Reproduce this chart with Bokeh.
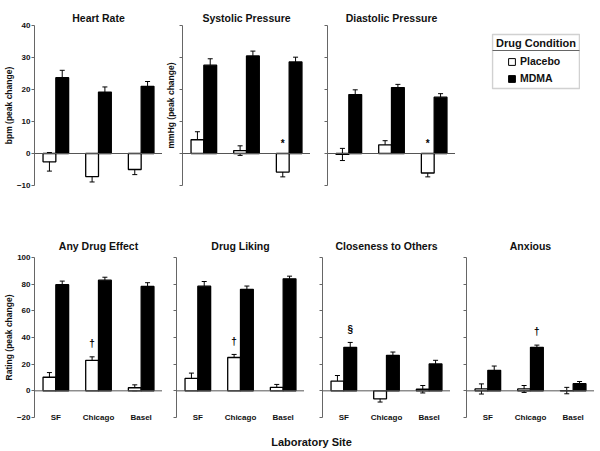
from bokeh.plotting import figure
from bokeh.models import (ColumnDataSource, FactorRange, Range1d, FixedTicker, Span,
                          Whisker, TeeHead, Legend, LegendItem, Label, BoxAnnotation)
from bokeh.transform import dodge
from bokeh.layouts import row, column
from bokeh.embed import file_html
from bokeh.resources import INLINE
from bokeh.core.properties import value

# ---------------- data ----------------
sites = ["SF", "Chicago", "Basel"]
drugs = ["Placebo", "MDMA"]

hr_placebo = [-2.6, -7.2, -5.0]
hr_placebo_se = [2.9, 1.7, 1.6]
hr_mdma = [23.7, 19.2, 21.0]
hr_mdma_se = [2.3, 1.6, 1.5]

sys_placebo = [4.3, 0.9, -5.8]
sys_placebo_se = [2.5, 1.5, 1.5]
sys_mdma = [27.6, 30.5, 28.6]
sys_mdma_se = [2.0, 1.5, 1.5]

dia_placebo = [-0.3, 2.7, -6.1]
dia_placebo_se = [1.9, 1.3, 1.2]
dia_mdma = [18.4, 20.6, 17.6]
dia_mdma_se = [1.5, 1.0, 1.1]

any_placebo = [10.2, 22.9, 2.3]
any_placebo_se = [3.5, 2.6, 2.2]
any_mdma = [79.6, 83.0, 78.3]
any_mdma_se = [2.7, 2.2, 2.8]

lik_placebo = [9.3, 25.0, 2.6]
lik_placebo_se = [4.0, 2.3, 2.2]
lik_mdma = [78.5, 76.1, 84.0]
lik_mdma_se = [3.5, 2.5, 2.0]

clo_placebo = [7.3, -6.0, 1.2]
clo_placebo_se = [4.2, 2.4, 2.8]
clo_mdma = [32.6, 26.6, 20.2]
clo_mdma_se = [3.7, 2.5, 2.7]

anx_placebo = [1.4, 1.4, 0.2]
anx_placebo_se = [3.8, 2.6, 2.4]
anx_mdma = [15.4, 32.6, 5.3]
anx_mdma_se = [3.2, 1.7, 1.7]

top_ticks = [-10, 0, 10, 20, 30, 40]
bottom_ticks = [-20, 0, 20, 40, 60, 80, 100]

# significance marks: (site, drug, symbol)
sys_marks = [("Basel", "Placebo", "*")]
dia_marks = [("Basel", "Placebo", "*")]
any_marks = [("Chicago", "Placebo", "\u2020")]
lik_marks = [("Chicago", "Placebo", "\u2020")]
clo_marks = [("SF", "MDMA", "\u00a7")]
anx_marks = [("Chicago", "MDMA", "\u2020")]

# ---------------- styling ----------------
FONT = "Liberation Sans"
TXT = "#111111"
AXC = "#666666"
FW = 128
OFF = {"Placebo": -0.15, "MDMA": 0.15}
NAN = float("nan")


def make_panel(title, pl, pl_se, md, md_se, yr, ticks, frame_h, left,
               top, bottom, standoff, marks, pad, ylabel=None, tick_labels=False,
               site_labels=False):
    p = figure(x_range=FactorRange(*sites), y_range=Range1d(*yr),
               frame_width=FW, frame_height=frame_h, title=title,
               min_border_left=left, min_border_right=0,
               min_border_top=top, min_border_bottom=bottom,
               output_backend="svg", toolbar_location=None)
    p.outline_line_color = None
    p.grid.visible = False
    p.title.align = "center"
    p.title.text_font = FONT
    p.title.text_font_style = "bold"
    p.title.text_font_size = "10.5px"
    p.title.text_color = TXT
    p.title.standoff = standoff

    src = ColumnDataSource(dict(
        site=sites, placebo=pl, mdma=md,
        placebo_hi=[m + s for m, s in zip(pl, pl_se)],
        placebo_lo=[m - s for m, s in zip(pl, pl_se)],
        mdma_hi=[m + s for m, s in zip(md, md_se)],
    ))
    p.vbar(x=dodge("site", OFF["Placebo"], range=p.x_range), top="placebo", bottom=0,
           width=0.3, source=src, fill_color="white", line_color="black", line_width=1.3)
    p.vbar(x=dodge("site", OFF["MDMA"], range=p.x_range), top="mdma", bottom=0,
           width=0.3, source=src, fill_color="black", line_color="black", line_width=1.3)
    p.add_layout(Span(location=0, dimension="width", line_color="#555555", line_width=1))
    p.add_layout(Whisker(base=dodge("site", OFF["Placebo"], range=p.x_range),
                         upper="placebo_hi", lower="placebo_lo", source=src,
                         line_color="black", line_width=1,
                         upper_head=TeeHead(size=5, line_color="black", line_width=1),
                         lower_head=TeeHead(size=5, line_color="black", line_width=1)))
    p.add_layout(Whisker(base=dodge("site", OFF["MDMA"], range=p.x_range),
                         upper="mdma_hi", lower="mdma", source=src,
                         line_color="black", line_width=1,
                         upper_head=TeeHead(size=5, line_color="black", line_width=1),
                         lower_head=None))

    for drug in drugs:
        ms, my, msym = [], [], []
        for site, d, sym in marks:
            if d != drug:
                continue
            i = sites.index(site)
            hi = pl[i] + pl_se[i] if drug == "Placebo" else md[i] + md_se[i]
            ms.append(site)
            my.append(max(hi, 0) + pad)
            msym.append(sym)
        if not ms:
            continue
        msrc = ColumnDataSource(dict(site=ms, y=my, sym=msym))
        p.text(x=dodge("site", OFF[drug], range=p.x_range), y="y", text="sym",
               source=msrc, text_align="center", text_baseline="middle",
               text_font=value(FONT), text_font_style="bold", text_font_size="10px",
               text_color="black")

    ya = p.yaxis[0]
    ya.ticker = FixedTicker(ticks=ticks)
    ya.major_tick_out = 3
    ya.major_tick_in = 0
    ya.minor_tick_line_color = None
    ya.axis_line_color = AXC
    ya.major_tick_line_color = AXC
    if tick_labels:
        ya.major_label_text_font = FONT
        ya.major_label_text_font_style = "bold"
        ya.major_label_text_font_size = "8px"
        ya.major_label_text_color = TXT
        ya.major_label_standoff = 1
    else:
        ya.major_label_text_color = None
        ya.major_label_text_font_size = "1px"
        ya.major_label_standoff = 0
    if ylabel:
        ya.axis_label = ylabel
        ya.axis_label_text_font = FONT
        ya.axis_label_text_font_style = "bold"
        ya.axis_label_text_font_size = "8.5px"
        ya.axis_label_text_color = TXT
        ya.axis_label_standoff = 0 if tick_labels else 4

    xa = p.xaxis[0]
    if site_labels:
        xa.axis_line_color = None
        xa.major_tick_line_color = None
        xa.major_tick_out = 0
        xa.major_tick_in = 0
        xa.major_label_standoff = -5
        xa.major_label_text_font = FONT
        xa.major_label_text_font_style = "bold"
        xa.major_label_text_font_size = "8px"
        xa.major_label_text_color = TXT
    else:
        xa.visible = False
    return p


TOP_T, TOP_H, TOP_BB, TOP_S = 25, 160, 40, 4
BOT_T, BOT_H, BOT_BB, BOT_S = 32, 160, 9, 11

f1 = make_panel("Heart Rate", hr_placebo, hr_placebo_se, hr_mdma, hr_mdma_se,
                (-10, 40), top_ticks, TOP_H, 33, TOP_T, TOP_BB, TOP_S, [], 3.0,
                ylabel="bpm (peak change)", tick_labels=True)
f2 = make_panel("Systolic Pressure", sys_placebo, sys_placebo_se, sys_mdma, sys_mdma_se,
                (-10, 40), top_ticks, TOP_H, 17, TOP_T, TOP_BB, TOP_S, sys_marks, 3.0,
                ylabel="mmHg (peak change)")
f3 = make_panel("Diastolic Pressure", dia_placebo, dia_placebo_se, dia_mdma, dia_mdma_se,
                (-10, 40), top_ticks, TOP_H, 17, TOP_T, TOP_BB, TOP_S, dia_marks, 3.0)

f4 = make_panel("Any Drug Effect", any_placebo, any_placebo_se, any_mdma, any_mdma_se,
                (-20, 100), bottom_ticks, BOT_H, 33, BOT_T, BOT_BB, BOT_S, any_marks, 10.0,
                ylabel="Rating (peak change)", tick_labels=True, site_labels=True)
f5 = make_panel("Drug Liking", lik_placebo, lik_placebo_se, lik_mdma, lik_mdma_se,
                (-20, 100), bottom_ticks, BOT_H, 14, BOT_T, BOT_BB, BOT_S, lik_marks, 10.0,
                site_labels=True)
f6 = make_panel("Closeness to Others", clo_placebo, clo_placebo_se, clo_mdma, clo_mdma_se,
                (-20, 100), bottom_ticks, BOT_H, 18, BOT_T, BOT_BB, BOT_S, clo_marks, 10.0,
                site_labels=True)
f7 = make_panel("Anxious", anx_placebo, anx_placebo_se, anx_mdma, anx_mdma_se,
                (-20, 100), bottom_ticks, BOT_H, 16, BOT_T, BOT_BB, BOT_S, anx_marks, 10.0,
                site_labels=True)

# ---------------- legend panel (same vertical structure as the top panels) ----------------
LBW, LBH = 87, 54          # legend box size
LBTOP = 9                  # gap between panel top and legend box top
fl = figure(x_range=Range1d(-1, LBW + 1), y_range=Range1d(0, TOP_H),
            frame_width=LBW + 2, frame_height=TOP_H,
            min_border_left=36, min_border_right=0, min_border_top=TOP_T,
            min_border_bottom=TOP_BB, output_backend="svg", toolbar_location=None)
fl.axis.visible = False
fl.grid.visible = False
fl.outline_line_color = None
box_top = TOP_H - LBTOP
box_bot = box_top - LBH
fl.add_layout(BoxAnnotation(left=0, right=LBW, bottom=box_bot, top=box_top,
                            fill_alpha=0, line_color="#666666", line_width=1.5))
fl.add_layout(BoxAnnotation(left=0, right=LBW, bottom=box_top - 16.5, top=box_top - 15.5,
                            fill_color="#666666", fill_alpha=1, line_color=None))
r_pl = fl.scatter(x=[NAN], y=[NAN], marker="square", fill_color="white",
                  line_color="black", line_width=1)
r_md = fl.scatter(x=[NAN], y=[NAN], marker="square", fill_color="black",
                  line_color="black", line_width=1)
leg = Legend(items=[LegendItem(label=drugs[0], renderers=[r_pl]),
                    LegendItem(label=drugs[1], renderers=[r_md])],
             location=(12, box_bot + 1.5), padding=0, margin=0, spacing=0,
             glyph_width=17, glyph_height=17, label_height=17, label_standoff=-2,
             border_line_color=None, background_fill_alpha=0,
             label_text_font=FONT, label_text_font_style="bold",
             label_text_font_size="10.5px", label_text_color=TXT)
fl.add_layout(leg)
fl.add_layout(Label(x=LBW / 2, y=box_top - 8.5, text="Drug Condition", text_align="center",
                    text_baseline="middle", text_font=FONT, text_font_style="bold",
                    text_font_size="11px", text_color=TXT))

# ---------------- common x label ----------------
XW, XH = 596, 22
fx = figure(x_range=Range1d(0, XW), y_range=Range1d(0, XH), frame_width=XW, frame_height=XH,
            min_border=0, output_backend="svg", toolbar_location=None)
fx.axis.visible = False
fx.grid.visible = False
fx.outline_line_color = None
fx.add_layout(Label(x=311, y=7, text="Laboratory Site", text_align="center",
                    text_baseline="middle", text_font=FONT, text_font_style="bold",
                    text_font_size="11px", text_color=TXT))

layout = column(row(f1, f2, f3, fl), row(f4, f5, f6, f7), fx)
open("out.html", "w").write(file_html(layout, INLINE))
